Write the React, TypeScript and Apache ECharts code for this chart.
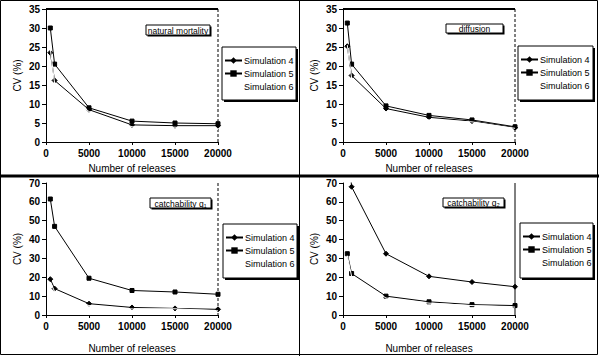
import React, { useEffect, useRef } from "react";
import * as echarts from "echarts";

// ---- data ----
const releases = [500, 1000, 5000, 10000, 15000, 20000];
const seriesNames = ["Simulation 4", "Simulation 5", "Simulation 6"];
const panelTitles = ["natural mortality", "diffusion", "catchability q\u2081", "catchability q\u2082"];
const xTicks = [0, 5000, 10000, 15000, 20000];
const yMaxes = [35, 35, 70, 70];
const yIntervals = [5, 5, 10, 10];

// natural mortality
const nmSim4 = [23.5, 16.2, 8.5, 4.5, 4.3, 4.3];
const nmSim5 = [30, 20.5, 9, 5.5, 5, 4.8];
const nmSim6 = [24.5, 15.5, 8, 4, 3.9, 3.3];
// diffusion
const dfSim4 = [25.2, 17.5, 8.8, 6.5, 5.5, 3.8];
const dfSim5 = [31.3, 20.5, 9.5, 7, 5.8, 4];
const dfSim6 = [25.5, 16.8, 7.8, 5.8, 5.3, 3.6];
// catchability q1
const q1Sim4 = [19, 14, 6, 4, 3.5, 3];
const q1Sim5 = [61.5, 47, 19.5, 13, 12.2, 11];
const q1Sim6 = [17.5, 12.5, 5, 3.2, 3.3, 2.2];
// catchability q2
const q2Sim4 = [95, 68, 32.5, 20.5, 17.5, 15];
const q2Sim5 = [32.5, 22, 10, 7, 5.5, 5];
const q2Sim6 = [31.5, 20.5, 9, 6.3, 5, 4.2];

const panelData = [
  [nmSim4, nmSim5, nmSim6],
  [dfSim4, dfSim5, dfSim6],
  [q1Sim4, q1Sim5, q1Sim6],
  [q2Sim4, q2Sim5, q2Sim6],
];

// ---- layout ----
const FONT = "Liberation Sans, Arial, sans-serif";
const grids = [
  { left: 46, top: 9, width: 172, height: 133 },
  { left: 343, top: 9, width: 172, height: 133 },
  { left: 46, top: 183, width: 172, height: 132 },
  { left: 343, top: 183, width: 172, height: 132 },
];
const xNameGaps = [21, 21, 28, 28];
const legendBoxes = [
  { x: 222, y: 47, w: 74, h: 53 },
  { x: 518, y: 46, w: 75, h: 54 },
  { x: 223, y: 224, w: 74, h: 54 },
  { x: 520, y: 223, w: 73, h: 55 },
];
const titleBoxes = [
  { x: 146, y: 25, w: 64, h: 10 },
  { x: 446, y: 24, w: 57, h: 9 },
  { x: 150, y: 198, w: 61, h: 10 },
  { x: 443, y: 198, w: 61, h: 9 },
];

const symbols = ["diamond", "rect", "none"];
const symbolSizes = [5, 4, 0];
const lineColors = ["#000", "#000", "#fff"];
const lineWidths = [1, 1, 1];

export default function App() {
  const ref = useRef<HTMLDivElement>(null);
  useEffect(() => {
    document.body.style.margin = "0";
    if (!ref.current) return;
    const chart = echarts.init(ref.current, null, { renderer: "svg" });

    const graphic: any[] = [];
    graphic.push({ type: "rect", shape: { x: 0.5, y: 0.5, width: 597, height: 354 }, style: { fill: "none", stroke: "#000", lineWidth: 1 }, z: 100 });
    graphic.push({ type: "line", shape: { x1: 0, y1: 176, x2: 599, y2: 176 }, style: { stroke: "#000", lineWidth: 3 }, z: 100 });
    graphic.push({ type: "line", shape: { x1: 299.5, y1: 0, x2: 299.5, y2: 356 }, style: { stroke: "#000", lineWidth: 1 }, z: 100 });

    grids.forEach((g, i) => {
      const right = g.left + g.width;
      const bottom = g.top + g.height;
      if (i < 2) {
        graphic.push({ type: "line", shape: { x1: g.left, y1: g.top, x2: right, y2: g.top }, style: { stroke: "#000", lineWidth: 2 }, z: 5 });
      }
      graphic.push({
        type: "line",
        shape: { x1: right, y1: g.top, x2: right, y2: bottom },
        style: { stroke: "#000", lineWidth: 1, lineDash: i === 3 ? null : [3, 2] },
        z: 5,
      });
      const lb = legendBoxes[i];
      graphic.push({ type: "rect", shape: { x: lb.x + 2, y: lb.y + 2, width: lb.w, height: lb.h }, style: { fill: "#000" }, z: 1 });
      graphic.push({ type: "rect", shape: { x: lb.x, y: lb.y, width: lb.w, height: lb.h }, style: { fill: "#fff", stroke: "#000", lineWidth: 1 }, z: 2 });
      const tb = titleBoxes[i];
      graphic.push({ type: "rect", shape: { x: tb.x + 1.5, y: tb.y + 1.5, width: tb.w, height: tb.h }, style: { fill: "#000" }, z: 20 });
      graphic.push({ type: "rect", shape: { x: tb.x, y: tb.y, width: tb.w, height: tb.h }, style: { fill: "#fff", stroke: "#000", lineWidth: 1 }, z: 21 });
      graphic.push({
        type: "text",
        x: tb.x + tb.w / 2,
        y: tb.y + tb.h / 2 + 0.5,
        style: { text: panelTitles[i], fontSize: 8.5, fontFamily: FONT, fill: "#000", align: "center", verticalAlign: "middle" },
        z: 22,
      });
    });

    const option: any = {
      animation: false,
      backgroundColor: "#fff",
      textStyle: { fontFamily: FONT, color: "#000" },
      grid: grids.map((g) => ({ ...g, containLabel: false })),
      xAxis: grids.map((_, i) => ({
        type: "value",
        gridIndex: i,
        min: xTicks[0],
        max: xTicks[xTicks.length - 1],
        interval: 5000,
        name: "Number of releases",
        nameLocation: "middle",
        nameGap: xNameGaps[i],
        nameTextStyle: { fontSize: 10, fontFamily: FONT, color: "#000" },
        axisLine: { lineStyle: { color: "#000", width: 1 } },
        axisTick: { show: true, inside: false, length: 3, lineStyle: { color: "#000" } },
        axisLabel: {
          fontSize: 10,
          fontFamily: FONT,
          color: "#000",
          margin: 6,
          fontWeight: "bold",
          formatter: (v: number) => String(v),
        },
        splitLine: { show: false },
      })),
      yAxis: grids.map((_, i) => ({
        type: "value",
        gridIndex: i,
        min: 0,
        max: yMaxes[i],
        interval: yIntervals[i],
        name: "CV (%)",
        nameLocation: "middle",
        nameGap: 24,
        nameTextStyle: { fontSize: 10, fontFamily: FONT, color: "#000" },
        axisLine: { show: true, lineStyle: { color: "#000", width: 1 } },
        axisTick: { show: true, inside: false, length: 4, lineStyle: { color: "#000" } },
        axisLabel: { fontSize: 10, fontFamily: FONT, color: "#000", margin: 6, fontWeight: "bold" },
        splitLine: { show: false },
      })),
      legend: legendBoxes.map((lb) => ({
        data: seriesNames,
        orient: "vertical",
        left: lb.x + 2,
        top: lb.y + 9,
        padding: 0,
        itemGap: 4,
        itemWidth: 17,
        itemHeight: 8,
        selectedMode: false,
        textStyle: { fontSize: 9, fontFamily: FONT, color: "#000", padding: [0, 0, 0, -3] },
        z: 10,
      })),
      series: [] as any[],
      graphic,
    };

    panelData.forEach((sims, gi) => {
      sims.forEach((vals, si) => {
        option.series.push({
          type: "line",
          name: seriesNames[si],
          xAxisIndex: gi,
          yAxisIndex: gi,
          data: releases.map((r, k) => [r, vals[k]]),
          symbol: symbols[si],
          symbolSize: symbolSizes[si],
          showSymbol: si !== 2,
          clip: true,
          lineStyle: { color: lineColors[si], width: lineWidths[si] },
          itemStyle: { color: lineColors[si], borderColor: lineColors[si] },
          z: 3 + si,
        });
      });
    });

    chart.setOption(option);
    return () => chart.dispose();
  }, []);
  return <div ref={ref} style={{ width: 599, height: 356 }} />;
}
